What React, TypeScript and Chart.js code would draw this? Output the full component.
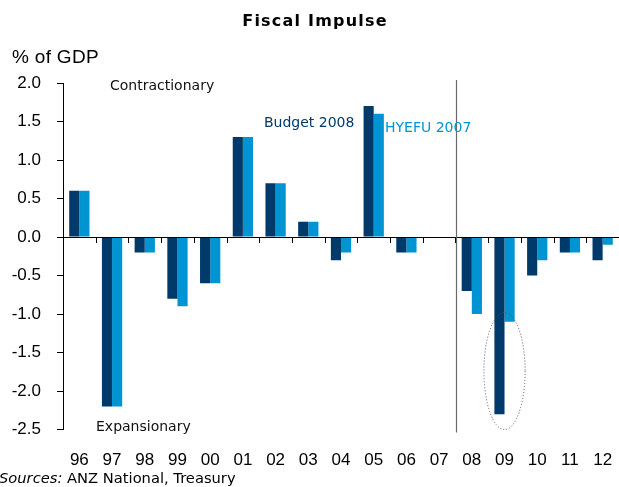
import React, { useEffect, useRef } from "react";
import { Chart, registerables } from "chart.js";
Chart.register(...registerables);

const categories = ["96", "97", "98", "99", "00", "01", "02", "03", "04", "05", "06", "07", "08", "09", "10", "11", "12"];
const budget2008: (number | null)[] = [0.6, -2.2, -0.2, -0.8, -0.6, 1.3, 0.7, 0.2, -0.3, 1.7, -0.2, null, -0.7, -2.3, -0.5, -0.2, -0.3];
const hyefu2007: (number | null)[] = [0.6, -2.2, -0.2, -0.9, -0.6, 1.3, 0.7, 0.2, -0.2, 1.6, -0.2, null, -1.0, -1.1, -0.3, -0.2, -0.1];
const yMin = -2.5;
const yMax = 2.0;
const yStep = 0.5;

const DARK = "#003a6b";
const LIGHT = "#0094d3";

const decorPlugin = {
  id: "decor",
  afterDatasetsDraw(chart: any) {
    const { ctx, chartArea, scales } = chart;
    const x = scales.x;
    const y = scales.y;
    const y0 = Math.round(y.getPixelForValue(0));
    ctx.save();
    // zero line
    ctx.strokeStyle = "#000";
    ctx.lineWidth = 1;
    ctx.beginPath();
    ctx.moveTo(chartArea.left, y0 + 0.5);
    ctx.lineTo(chartArea.right, y0 + 0.5);
    ctx.stroke();
    // boundary ticks
    for (let i = 1; i < categories.length; i++) {
      const bx = Math.round((x.getPixelForValue(i - 1) + x.getPixelForValue(i)) / 2) + 0.5;
      ctx.beginPath();
      ctx.moveTo(bx, y0);
      ctx.lineTo(bx, y0 + 6);
      ctx.stroke();
    }
    // vertical divider between 07 and 08
    const dx = Math.round((x.getPixelForValue(11) + x.getPixelForValue(12)) / 2) + 1.5;
    ctx.strokeStyle = "#6a6a6a";
    ctx.lineWidth = 1.2;
    ctx.beginPath();
    ctx.moveTo(dx, chartArea.top - 3);
    ctx.lineTo(dx, chartArea.bottom + 3);
    ctx.stroke();
    // dotted ellipse around 09
    const cx = x.getPixelForValue(13);
    const cw = x.getPixelForValue(1) - x.getPixelForValue(0);
    const yt = y.getPixelForValue(-0.98);
    const yb = y.getPixelForValue(-2.5);
    ctx.strokeStyle = "#555";
    ctx.lineWidth = 1;
    ctx.setLineDash([1, 2]);
    ctx.beginPath();
    ctx.ellipse(cx, (yt + yb) / 2, cw * 0.63, (yb - yt) / 2, 0, 0, Math.PI * 2);
    ctx.stroke();
    ctx.setLineDash([]);
    // annotations
    ctx.textBaseline = "middle";
    ctx.font = "14px 'DejaVu Sans'";
    ctx.fillStyle = "#111";
    ctx.textAlign = "left";
    ctx.fillText("Contractionary", 110, 86);
    ctx.fillText("Expansionary", 96, 427);
    ctx.fillStyle = DARK;
    ctx.fillText("Budget 2008", 264, 123);
    ctx.fillStyle = LIGHT;
    ctx.fillText("HYEFU 2007", 385, 128);
    // axis title
    ctx.fillStyle = "#000";
    ctx.font = "19px 'Liberation Sans'";
    (ctx as any).letterSpacing = "0.3px";
    ctx.fillText("% of GDP", 12, 58);
    // title
    ctx.font = "bold 16px 'DejaVu Sans'";
    (ctx as any).letterSpacing = "1.2px";
    ctx.textAlign = "center";
    ctx.fillText("Fiscal Impulse", 315, 22);
    (ctx as any).letterSpacing = "0px";
    // sources
    ctx.textAlign = "left";
    ctx.font = "italic 14.7px 'DejaVu Sans'";
    ctx.fillText("Sources:", -1, 479);
    const w = ctx.measureText("Sources: ").width;
    ctx.font = "14.7px 'DejaVu Sans'";
    ctx.fillText("ANZ National, Treasury", -1 + w, 479);
    ctx.restore();
  },
};

export default function App() {
  const ref = useRef<HTMLCanvasElement>(null);
  useEffect(() => {
    if (!ref.current) return;
    const chart = new Chart(ref.current, {
      type: "bar",
      data: {
        labels: categories,
        datasets: [
          { label: "Budget 2008", data: budget2008, backgroundColor: DARK, borderWidth: 0 },
          { label: "HYEFU 2007", data: hyefu2007, backgroundColor: LIGHT, borderWidth: 0 },
        ],
      },
      options: {
        responsive: false,
        animation: false,
        layout: { padding: { left: 0, right: 0, top: 83, bottom: 13 } },
        datasets: { bar: { categoryPercentage: 0.62, barPercentage: 1.0 } },
        plugins: { legend: { display: false }, tooltip: { enabled: false }, title: { display: false } },
        scales: {
          x: {
            grid: { display: true, drawOnChartArea: false, drawTicks: true, tickLength: 18, color: "rgba(0,0,0,0)" },
            border: { display: false },
            ticks: { color: "#000", font: { family: "'Liberation Sans'", size: 17 }, padding: 3, maxRotation: 0, autoSkip: false },
          },
          y: {
            min: yMin,
            max: yMax,
            grid: { drawOnChartArea: false, drawTicks: true, tickLength: 6, color: "#000" },
            border: { display: true, color: "#000" },
            ticks: {
              stepSize: yStep,
              color: "#000",
              padding: 16,
              font: { family: "'Liberation Sans'", size: 17 },
              callback: (v: any) => Number(v).toFixed(1),
            },
            afterFit: (s: any) => { s.width = 63; },
          },
        },
      },
      plugins: [decorPlugin],
    });
    return () => chart.destroy();
  }, []);
  return (
    <div style={{ position: "absolute", left: 0, top: 0, width: 619, height: 487 }}>
      <canvas ref={ref} width={619} height={487} />
    </div>
  );
}
